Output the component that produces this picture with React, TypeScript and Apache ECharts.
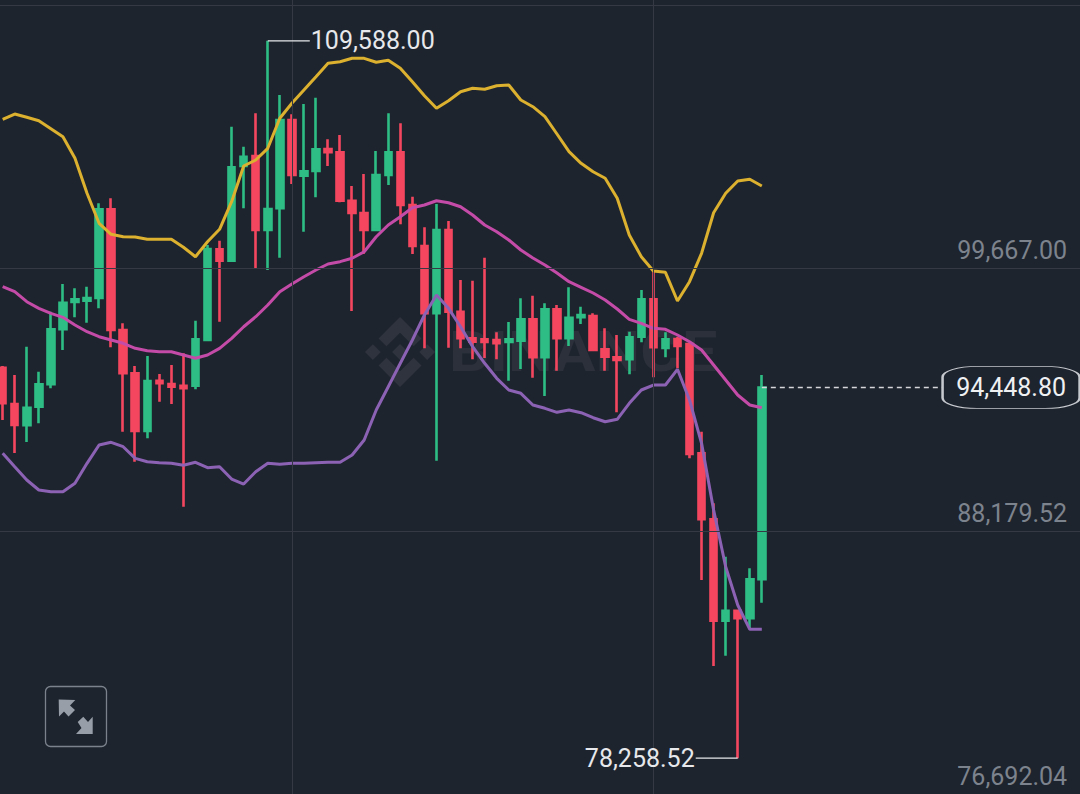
import React, { useEffect, useRef } from "react";
import * as echarts from "echarts";

const slotCount = 90;
const categories = Array.from({ length: slotCount }, (_, i) => String(i));

const opens = [95312, 93726, 92796, 93608, 94587, 96989, 98182, 98238, 98356, 102231, 96959, 95067, 92547, 94744, 94600, 94526, 94526, 96522, 100484, 99986, 104122, 104560, 101327, 102274, 106131, 103699, 103904, 104865, 104721, 102606, 102069, 101327, 103729, 104721, 102419, 100628, 97688, 101327, 97758, 96596, 96552, 96522, 96434, 96492, 97426, 95766, 97862, 96596, 97513, 97570, 96115, 95766, 95679, 96666, 98300, 96172, 96565, 96347, 91573, 88690, 84261, 84698, 84366, 86069];
const closes = [93757, 92809, 93565, 94587, 96989, 98151, 98300, 98356, 102231, 96959, 95067, 92547, 94731, 94630, 94482, 94412, 96552, 100497, 99986, 104065, 104529, 101327, 102244, 106131, 103729, 103891, 104852, 104721, 102606, 102069, 101327, 103729, 104721, 102419, 100628, 97688, 101327, 97758, 96596, 96448, 96434, 96378, 96552, 97426, 95766, 97862, 96596, 97496, 97614, 96085, 95792, 95648, 96640, 98300, 96203, 96552, 96260, 91542, 88690, 84261, 84698, 84366, 86069, 94448.8];
const lows = [93027, 91586, 92066, 92883, 94412, 96085, 97513, 97277, 97906, 96203, 92516, 91206, 92228, 93827, 93726, 89240, 94368, 96478, 97321, 99959, 102274, 99654, 99580, 100117, 103336, 101252, 102755, 104122, 102537, 97789, 100278, 101327, 103293, 101576, 100278, 96159, 91250, 96185, 96159, 95679, 95736, 95679, 94744, 95255, 94875, 94076, 95181, 96260, 97221, 96041, 95181, 93364, 95024, 96421, 94892, 95766, 95286, 91354, 86039, 82282, 82732, 78258.52, 83942, 85047];
const highs = [95386, 94993, 96229, 95137, 97758, 98968, 98780, 98850, 102493, 102711, 97251, 95386, 95823, 95037, 95430, 95941, 97365, 100671, 100859, 105839, 104965, 106424, 109588, 107223, 106380, 106830, 107105, 105288, 105476, 103249, 103773, 104777, 106424, 105987, 102781, 101445, 102462, 101720, 99143, 99112, 100117, 96858, 97308, 98343, 98457, 98123, 98050, 98822, 97976, 97688, 97033, 96740, 96884, 98706, 99492, 96858, 96666, 96404, 92516, 89389, 87056, 84728, 86550, 94993];

const upperBand = [106162, 106393, 106249, 106101, 105751, 105402, 104459, 102930, 101619, 101139, 101034, 101021, 100920, 100920, 100920, 100571, 100160, 100815, 101357, 102563, 104122, 104384, 104895, 106206, 106861, 107442, 108023, 108608, 108678, 108826, 108826, 108652, 108739, 108390, 107804, 107193, 106643, 106974, 107368, 107516, 107472, 107630, 107660, 107005, 106712, 106276, 105520, 104747, 104240, 103873, 103585, 102711, 101108, 100160, 99536, 99479, 98225, 99069, 100309, 102082, 102930, 103467, 103541, 103249];
const middleBand = [98850, 98632, 98195, 97906, 97688, 97513, 97177, 96884, 96666, 96522, 96378, 96159, 96054, 96011, 96011, 95867, 95722, 95867, 96159, 96596, 97102, 97539, 98050, 98632, 98968, 99287, 99580, 99842, 99943, 100091, 100379, 101034, 101545, 101907, 102301, 102419, 102606, 102519, 102344, 101982, 101545, 101252, 100890, 100453, 100104, 99798, 99449, 99069, 98824, 98575, 98269, 97876, 97426, 97251, 97033, 96989, 96740, 96448, 96085, 95430, 94775, 94119, 93683, 93565];
const lowerBand = [91573, 90988, 90407, 89970, 89896, 89896, 90262, 91136, 91935, 92053, 91861, 91354, 91206, 91162, 91136, 91049, 91180, 90944, 90988, 90450, 90231, 90769, 91136, 91092, 91136, 91136, 91162, 91180, 91180, 91498, 92154, 93464, 94482, 95504, 96522, 97614, 98487, 97906, 97102, 96229, 95504, 94849, 94338, 94194, 93683, 93538, 93364, 93464, 93346, 93128, 92953, 93058, 93757, 94338, 94556, 94556, 95242, 93901, 92010, 89096, 86620, 84947, 83885, 83885];

const yTickLabels = [76692.04, 88179.52, 99667.0];
const yGridLines = [76692.04, 88179.52, 99667.0, 111154.48];
const xGridLines = [24, 54];
const yMin = 76692.04;
const yMax = 111372.86;
const highestPoint = { index: 22, value: 109588.0 };
const lowestPoint = { index: 61, value: 78258.52 };
const lastPrice = 94448.8;
const lastIndex = 63;
const priceTagIndex = 78;

const BG = "#1e242e";
const GRID = "#343944";
const UP = "#2ebd85";
const DOWN = "#f4475f";
const FONT = "Roboto";

const fmt = (v: number) =>
  v.toLocaleString("en-US", { minimumFractionDigits: 2, maximumFractionDigits: 2 });

const pad = (vals: number[]) =>
  categories.map((_, i) => (i < vals.length ? vals[i] : null));

const logoParts = [
  [[9.8, 13.4], [16, 7.2], [22.2, 13.4], [25.8, 9.8], [16, 0], [6.2, 9.8]],
  [[0, 16], [3.6, 12.4], [7.2, 16], [3.6, 19.6]],
  [[9.8, 18.6], [16, 24.8], [22.2, 18.6], [25.8, 22.2], [16, 32], [6.2, 22.2]],
  [[24.8, 16], [28.4, 12.4], [32, 16], [28.4, 19.6]],
  [[19.64, 16], [16, 12.36], [12.36, 16], [16, 19.64]],
];

export default function App() {
  const ref = useRef<HTMLDivElement>(null);
  useEffect(() => {
    const chart = echarts.init(ref.current!, undefined, { renderer: "svg" });
    const bandLine = (name: string, data: number[], color: string) => ({
      name,
      type: "line",
      data: pad(data),
      showSymbol: false,
      smooth: false,
      silent: true,
      z: 3,
      lineStyle: { color, width: 3 },
    });
    chart.setOption({
      animation: false,
      backgroundColor: BG,
      grid: { left: -3.35, top: 0, width: 1084.5, height: 794, outerBoundsMode: "none" },
      xAxis: {
        type: "category",
        data: categories,
        boundaryGap: true,
        axisLine: { show: false },
        axisTick: { show: false },
        axisLabel: { show: false },
        splitLine: { show: false },
      },
      yAxis: {
        type: "value",
        position: "right",
        min: yMin,
        max: yMax,
        scale: true,
        axisLine: { show: false },
        axisTick: { show: false },
        splitLine: { show: false },
        axisLabel: {
          inside: true,
          customValues: yTickLabels,
          margin: 14,
          color: "#7d838d",
          fontFamily: FONT,
          fontSize: 25,
          verticalAlign: "bottom",
          padding: [0, 0, 5, 0],
          formatter: (v: number) => fmt(v),
        },
      },
      graphic: [
        {
          type: "group",
          x: 365,
          y: 317,
          scaleX: 2.19,
          scaleY: 2.19,
          silent: true,
          z: 0,
          children: logoParts.map((points) => ({
            type: "polygon",
            shape: { points },
            style: { fill: "#2e333e" },
          })),
        },
        {
          type: "text",
          x: 449,
          y: 352,
          scaleX: 1.13,
          silent: true,
          z: 0,
          style: {
            text: "BINANCE",
            fill: "#2b303b",
            font: "bold 56px Roboto",
            verticalAlign: "middle",
          },
        },
        {
          type: "rect",
          shape: { x: 45.5, y: 686.5, width: 61, height: 60, r: 5 },
          silent: true,
          z: 10,
          style: { fill: "transparent", stroke: "#7c828c", lineWidth: 1.3 },
        },
        {
          type: "polygon",
          silent: true,
          z: 10,
          shape: {
            points: [[58.7, 699.5], [75.3, 700], [70, 705.5], [75, 710], [68.5, 716.5], [64, 711.5], [59, 716.5]],
          },
          style: { fill: "#989ea8" },
        },
        {
          type: "polygon",
          silent: true,
          z: 10,
          shape: {
            points: [[92.7, 734], [76, 734], [81.5, 728], [77.7, 722], [83.3, 716.7], [88, 722], [92.7, 716.7]],
          },
          style: { fill: "#989ea8" },
        },
      ],
      series: [
        {
          name: "guides",
          type: "line",
          data: categories.map(() => null),
          silent: true,
          z: 1,
          showSymbol: false,
          markLine: {
            silent: true,
            symbol: "none",
            animation: false,
            label: { show: false },
            data: [
              ...yGridLines.map((v) => ({
                yAxis: v,
                lineStyle: { color: GRID, width: 1, type: "solid" },
              })),
              ...xGridLines.map((v) => ({
                xAxis: v,
                lineStyle: { color: GRID, width: 1, type: "solid" },
              })),
              [
                {
                  coord: [lastIndex, lastPrice],
                  lineStyle: { color: "#d5d7db", width: 1.3, type: [5, 4] },
                },
                { coord: [priceTagIndex, lastPrice] },
              ],
            ],
          },
          markPoint: {
            silent: true,
            animation: false,
            data: [
              {
                coord: [priceTagIndex, lastPrice],
                value: lastPrice,
                symbol: "roundRect",
                symbolSize: [137, 42],
                symbolOffset: [68.5, 0],
                itemStyle: { color: BG, borderColor: "#c6c9ce", borderWidth: 1.4 },
                label: {
                  show: true,
                  position: "inside",
                  color: "#eef0f2",
                  fontFamily: FONT,
                  fontSize: 25,
                  formatter: (p: any) => fmt(p.value),
                },
              },
            ],
          },
        },
        {
          name: "price",
          type: "candlestick",
          data: opens.map((o, i) => [o, closes[i], lows[i], highs[i]]),
          barWidth: 7,
          z: 2,
          silent: true,
          itemStyle: {
            color: UP,
            color0: DOWN,
            borderColor: UP,
            borderColor0: DOWN,
            borderWidth: 2.6,
          },
          markPoint: {
            silent: true,
            animation: false,
            data: [
              {
                coord: [highestPoint.index, highestPoint.value],
                value: highestPoint.value,
                symbol: "rect",
                symbolSize: [42, 1.4],
                symbolOffset: [21, 0],
                itemStyle: { color: "#e6e8eb" },
                label: {
                  show: true,
                  position: "right",
                  distance: 1,
                  color: "#e6e8eb",
                  fontFamily: FONT,
                  fontSize: 25,
                  formatter: (p: any) => fmt(p.value),
                },
              },
              {
                coord: [lowestPoint.index, lowestPoint.value],
                value: lowestPoint.value,
                symbol: "rect",
                symbolSize: [42, 1.4],
                symbolOffset: [-21, 0],
                itemStyle: { color: "#e6e8eb" },
                label: {
                  show: true,
                  position: "left",
                  distance: 1,
                  color: "#e6e8eb",
                  fontFamily: FONT,
                  fontSize: 25,
                  formatter: (p: any) => fmt(p.value),
                },
              },
            ],
          },
        },
        bandLine("upper", upperBand, "#dcb12f"),
        bandLine("middle", middleBand, "#c44ca8"),
        bandLine("lower", lowerBand, "#8c62b5"),
      ],
    });
    return () => chart.dispose();
  }, []);
  return (
    <div
      ref={ref}
      style={{ position: "fixed", left: 0, top: 0, width: 1080, height: 794 }}
    />
  );
}
